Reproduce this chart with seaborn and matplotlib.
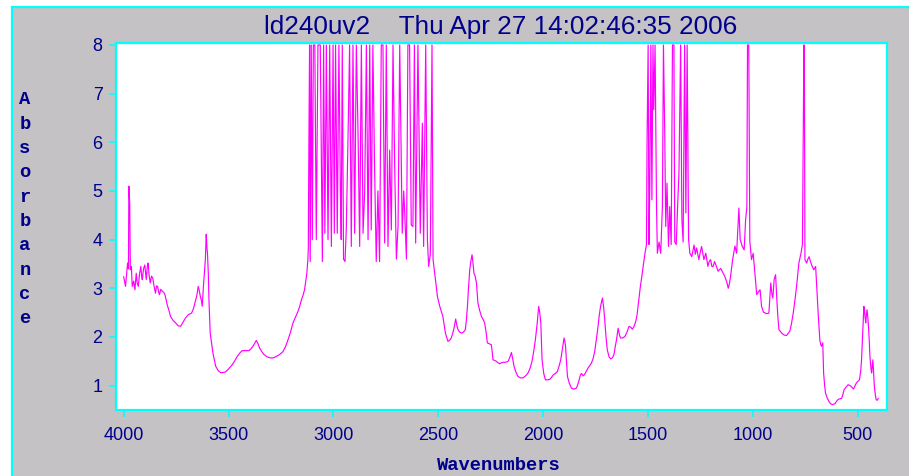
import matplotlib
matplotlib.use("Agg")
import matplotlib.pyplot as plt
import seaborn as sns
import pandas as pd
from matplotlib.patches import Rectangle

# ---------------- data ----------------
wavenumber = [
    4001, 3995, 3992, 3982, 3978, 3976, 3972, 3969, 3964, 3960, 3953, 3947, 3941, 3936, 3931,
    3925, 3919, 3915, 3912, 3906, 3900, 3896, 3893, 3888, 3884, 3879, 3874, 3868, 3862, 3856,
    3849, 3844, 3839, 3834, 3830, 3824, 3817, 3810, 3804, 3799, 3793, 3785, 3777, 3765, 3753,
    3741, 3729, 3718, 3706, 3692, 3677, 3668, 3661, 3652, 3645, 3640, 3635, 3630, 3626, 3621,
    3616, 3611, 3607, 3604, 3601, 3597, 3594, 3591, 3588, 3581, 3575, 3568, 3562, 3550, 3539,
    3527, 3515, 3499, 3483, 3471, 3459, 3447, 3435, 3419, 3403, 3393, 3384, 3376, 3368, 3360,
    3352, 3342, 3332, 3316, 3300, 3288, 3273, 3257, 3241, 3229, 3217, 3205, 3193, 3182, 3170,
    3161, 3153, 3145, 3138, 3132, 3127, 3122, 3120,
    3117, 3114, 3111, 3106, 3101, 3096, 3089, 3082, 3074, 3063, 3053, 3047, 3041, 3034, 3026,
    3018, 3010, 3002, 2996, 2990, 2982, 2974, 2967, 2963, 2958, 2952, 2945, 2939, 2931, 2923,
    2915, 2907, 2899, 2891, 2883, 2875, 2867, 2859, 2851, 2843, 2835, 2827, 2820, 2812, 2804,
    2796, 2788, 2780, 2772, 2764, 2756, 2748, 2740, 2732, 2724, 2716, 2708, 2700, 2692, 2684,
    2672, 2665, 2660, 2652, 2645, 2637, 2629, 2621, 2614, 2608, 2597, 2586, 2576, 2570, 2560,
    2552, 2546, 2538, 2530, 2525, 2517, 2510, 2504, 2493, 2478, 2472, 2466, 2454, 2446, 2438,
    2431, 2425, 2417, 2412, 2406, 2398, 2390, 2380, 2371, 2366, 2361, 2356, 2350, 2345, 2339,
    2334, 2330, 2324, 2318, 2311, 2303, 2294, 2285, 2279, 2272, 2266, 2256, 2247, 2243, 2239,
    2231, 2223, 2215, 2207, 2199, 2191, 2179, 2167, 2159, 2151, 2145, 2139, 2130, 2120, 2108,
    2096, 2084, 2072, 2062, 2053, 2045, 2037, 2029, 2021, 2016, 2011, 2008, 2005, 1997, 1989,
    1979, 1968, 1960, 1952, 1942, 1932, 1924, 1916, 1908, 1900, 1896, 1893, 1888, 1884, 1875,
    1865, 1853, 1841, 1835, 1830, 1822, 1817, 1809, 1801, 1786, 1770, 1762, 1754, 1746, 1738,
    1732, 1726, 1717, 1711, 1706, 1700, 1694, 1686, 1678, 1670, 1662, 1656, 1650, 1642, 1636,
    1631, 1620, 1610, 1600, 1590, 1582, 1574, 1566, 1558, 1552, 1547, 1541, 1536, 1529, 1523,
    1518, 1514, 1507, 1504, 1499, 1495, 1491, 1486, 1481, 1476, 1472, 1466, 1459, 1455, 1447,
    1439, 1431, 1426, 1420, 1415, 1409, 1402, 1396, 1389, 1383, 1376, 1372, 1365, 1359, 1352,
    1344, 1338, 1332, 1325, 1319, 1313, 1306, 1300, 1291, 1280, 1274, 1268, 1257, 1250, 1244,
    1233, 1224, 1214, 1208, 1201, 1195, 1189, 1182, 1176, 1165, 1153, 1141, 1134, 1128, 1122,
    1117, 1111, 1106, 1096, 1085, 1077, 1070, 1066, 1060, 1050, 1041, 1034, 1028, 1025, 1019,
    1014, 1006, 998, 990, 981, 971, 965, 958, 949, 934, 923, 914, 909, 904, 898,
    891, 885, 880, 875, 862, 850, 839, 823, 815, 807, 799, 791, 785, 780, 770,
    763, 759, 756, 754, 751, 743, 737, 731, 725, 719, 709, 700, 695, 688, 680,
    676, 672, 666, 662, 657, 653, 645, 637, 629, 621, 608, 600, 592, 576, 570,
    564, 555, 545, 532, 519, 512, 505, 491, 485, 481, 477, 474, 470, 467, 464,
    461, 458, 455, 451, 448, 444, 441, 436, 433, 430, 427, 424, 420, 415, 411,
    406, 401,
]
absorbance = [
    3.24, 3.10, 3.04, 3.52, 3.40, 5.10, 4.75, 3.38, 3.45, 3.04, 3.15, 2.97, 3.31, 3.10, 3.04,
    3.30, 3.45, 3.25, 3.18, 3.40, 3.48, 3.30, 3.18, 3.45, 3.52, 3.25, 3.11, 3.25, 3.21, 3.05,
    2.90, 3.05, 3.04, 2.92, 2.87, 2.98, 2.94, 2.92, 2.87, 2.78, 2.66, 2.55, 2.42, 2.34, 2.29,
    2.23, 2.22, 2.30, 2.39, 2.46, 2.49, 2.58, 2.70, 2.85, 3.04, 2.95, 2.83, 2.75, 2.63, 3.00,
    3.31, 3.60, 4.11, 3.85, 3.72, 3.30, 2.76, 2.40, 2.08, 1.85, 1.67, 1.52, 1.40, 1.31, 1.27,
    1.27, 1.28, 1.35, 1.43, 1.51, 1.60, 1.67, 1.72, 1.72, 1.72, 1.76, 1.81, 1.87, 1.93, 1.86,
    1.77, 1.70, 1.64, 1.59, 1.57, 1.57, 1.60, 1.64, 1.70, 1.80, 1.94, 2.10, 2.29, 2.40, 2.52,
    2.63, 2.76, 2.86, 2.97, 3.15, 3.31, 3.60, 3.83,
    6.12, 8.00, 3.55, 8.00, 4.00, 8.00, 8.00, 4.00, 8.00, 8.00, 3.55, 8.00, 4.13, 8.00, 4.00,
    8.00, 3.86, 8.00, 4.13, 8.00, 4.13, 8.00, 5.00, 4.00, 8.00, 3.60, 3.55, 4.20, 6.00, 8.00,
    3.86, 8.00, 4.13, 8.00, 6.25, 3.86, 8.00, 4.13, 5.00, 8.00, 4.00, 8.00, 4.20, 8.00, 5.50,
    3.55, 5.00, 3.55, 8.00, 8.00, 3.93, 8.00, 3.86, 5.84, 4.20, 8.00, 5.50, 3.60, 4.27, 8.00,
    4.13, 5.00, 4.55, 3.60, 8.00, 8.00, 4.30, 4.27, 8.00, 3.93, 8.00, 4.13, 6.39, 3.86, 8.00,
    4.00, 3.45, 3.70, 8.00, 3.59, 3.31, 3.05, 2.83, 2.63, 2.42, 2.25, 2.08, 1.91, 1.93, 1.98,
    2.08, 2.18, 2.37, 2.25, 2.15, 2.10, 2.08, 2.10, 2.15, 2.35, 2.63, 3.00, 3.38, 3.55, 3.69,
    3.50, 3.31, 3.25, 3.11, 2.70, 2.55, 2.42, 2.35, 2.29, 2.10, 1.88, 1.86, 1.84, 1.70, 1.53,
    1.52, 1.50, 1.47, 1.45, 1.47, 1.48, 1.48, 1.50, 1.58, 1.68, 1.55, 1.40, 1.28, 1.19, 1.16,
    1.16, 1.20, 1.26, 1.36, 1.50, 1.70, 1.94, 2.25, 2.63, 2.50, 2.29, 1.90, 1.53, 1.25, 1.12,
    1.12, 1.13, 1.17, 1.22, 1.25, 1.29, 1.40, 1.53, 1.75, 1.98, 1.90, 1.81, 1.45, 1.19, 1.05,
    0.95, 0.93, 0.95, 1.02, 1.09, 1.22, 1.25, 1.20, 1.24, 1.36, 1.46, 1.55, 1.70, 1.95, 2.22,
    2.45, 2.63, 2.80, 2.60, 2.35, 2.00, 1.74, 1.60, 1.55, 1.57, 1.64, 1.80, 1.94, 2.18, 2.05,
    1.98, 1.98, 2.01, 2.10, 2.22, 2.20, 2.16, 2.22, 2.32, 2.45, 2.63, 2.85, 3.04, 3.25, 3.45,
    3.60, 3.72, 3.90, 6.10, 8.00, 3.90, 5.16, 8.00, 4.82, 8.00, 6.67, 8.00, 4.68, 3.72, 3.95,
    3.72, 4.68, 8.00, 6.25, 4.27, 5.16, 3.86, 4.68, 3.90, 8.00, 8.00, 3.95, 3.90, 4.62, 5.37,
    8.00, 4.41, 3.95, 8.00, 4.55, 8.00, 4.00, 3.72, 3.65, 3.89, 3.70, 3.83, 3.59, 3.75, 3.86,
    3.59, 3.72, 3.45, 3.55, 3.59, 3.45, 3.45, 3.55, 3.48, 3.35, 3.41, 3.31, 3.25, 3.18, 3.10,
    3.00, 3.10, 3.24, 3.59, 3.87, 3.72, 4.30, 4.65, 4.00, 3.86, 3.79, 4.41, 4.68, 8.00, 8.00,
    3.97, 3.59, 3.72, 3.31, 2.87, 2.94, 2.97, 2.63, 2.51, 2.48, 2.49, 3.11, 2.90, 2.80, 3.18,
    3.28, 2.76, 2.40, 2.15, 2.08, 2.04, 2.03, 2.12, 2.28, 2.49, 2.75, 3.04, 3.30, 3.52, 3.72,
    3.90, 6.12, 8.00, 8.00, 3.59, 3.52, 3.60, 3.65, 3.55, 3.48, 3.38, 3.45, 3.04, 2.49, 1.94,
    1.85, 1.81, 1.88, 1.26, 1.00, 0.85, 0.75, 0.68, 0.63, 0.61, 0.63, 0.68, 0.72, 0.74, 0.82,
    0.92, 0.97, 1.02, 0.99, 0.93, 1.00, 1.06, 1.12, 1.30, 1.53, 1.95, 2.29, 2.63, 2.55, 2.40,
    2.29, 2.45, 2.56, 2.40, 2.22, 1.90, 1.60, 1.35, 1.26, 1.40, 1.53, 1.30, 0.99, 0.80, 0.71,
    0.70, 0.74,
]
x_ticks = [4000, 3500, 3000, 2500, 2000, 1500, 1000, 500]
y_ticks = [1, 2, 3, 4, 5, 6, 7, 8]
title_text = "ld240uv2    Thu Apr 27 14:02:46:35 2006"
x_label = "Wavenumbers"
y_label = "Absorbance"

# ---------------- styling ----------------
GRAY = "#c4c2c4"
CYAN = "#00ffff"
BLUE = "#00008c"
MAGENTA = "#ff00ff"
W, H = 909, 476

sns.set_theme(style="white")
plt.rcParams["font.family"] = ["Liberation Sans", "DejaVu Sans"]

df = pd.DataFrame({"Wavenumbers": wavenumber, "Absorbance": absorbance})

fig = plt.figure(figsize=(W / 100, H / 100), dpi=100, facecolor="white")
fig.patches.append(Rectangle((11.5 / W, -0.01), 1.0, (H - 7) / H + 0.01,
                             transform=fig.transFigure, facecolor=GRAY,
                             edgecolor=CYAN, linewidth=1.6, zorder=-10))

ax = fig.add_axes([116.5 / W, 66 / H, 770 / W, 366.5 / H])
ax.set_facecolor("white")
sns.lineplot(data=df, x="Wavenumbers", y="Absorbance", sort=False, estimator=None,
             color=MAGENTA, linewidth=0.85, ax=ax)

ax.set_xlim(4035, 362)
ax.set_ylim(0.5, 8.03)
ax.set_xticks(x_ticks)
ax.set_yticks(y_ticks)
ax.set_xticklabels([str(t) for t in x_ticks])
ax.set_yticklabels([str(t) for t in y_ticks])
ax.set_xlabel("")
ax.set_ylabel("")
for s in ax.spines.values():
    s.set_color(CYAN)
    s.set_linewidth(1.6)
    s.set_visible(True)
ax.tick_params(axis="both", which="major", direction="out", length=5, width=1.2,
               color=CYAN, labelcolor=BLUE, labelsize=13)
ax.tick_params(axis="x", pad=7, bottom=True)
ax.tick_params(axis="y", pad=5, left=True)

fig.text(501 / W, 1 - 27 / H, title_text, ha="center", va="center", color=BLUE,
         fontsize=18.8, family=["Liberation Sans", "DejaVu Sans"])
fig.text(499 / W, 1 - 465 / H, x_label, ha="center", va="center", color=BLUE,
         fontsize=13.5, fontweight="bold", family=["Liberation Mono", "DejaVu Sans Mono"])
for i, ch in enumerate(y_label):
    fig.text(25 / W, 1 - (100 + i * 24.3) / H, ch, ha="center", va="center", color=BLUE,
             fontsize=13.5, fontweight="bold", family=["Liberation Mono", "DejaVu Sans Mono"])

fig.savefig("out.png", dpi=100, facecolor=fig.get_facecolor())
